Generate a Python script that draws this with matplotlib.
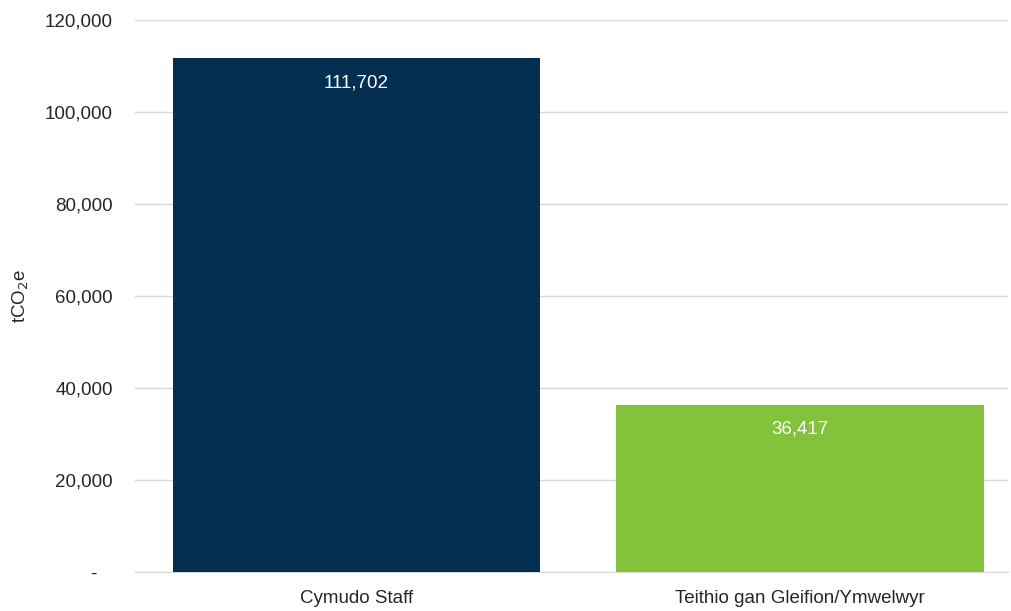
import matplotlib.pyplot as plt
from matplotlib.ticker import FuncFormatter

plt.rcParams['font.family'] = ['Liberation Sans', 'DejaVu Sans']

# Data
categories = ['Cymudo Staff', 'Teithio gan Gleifion/Ymwelwyr']
values = [111702, 36417]
bar_colors = ['#052f50', '#82c33b']
y_ticks = [0, 20000, 40000, 60000, 80000, 100000, 120000]

fig = plt.figure(figsize=(10.11, 6.11), dpi=100)
ax = fig.add_axes([0.1335, 0.0638, 0.8635, 0.9032])

x = list(range(len(categories)))
bars = ax.bar(x, values, width=0.83, color=bar_colors, zorder=3)

# value labels inside the top of each bar
for b, v in zip(bars, values):
    ax.annotate(f'{v:,}', (b.get_x() + b.get_width() / 2, v),
                xytext=(0, -11.5), textcoords='offset points',
                ha='center', va='top', color='white', fontsize=13.5)

ax.set_ylim(0, 120000)
ax.set_xlim(-0.5, 1.47)
ax.set_yticks(y_ticks)
ax.yaxis.set_major_formatter(FuncFormatter(lambda v, p: '-   ' if v == 0 else f'{int(v):,}'))
ax.set_xticks(x)
ax.set_xticklabels(categories)
ax.tick_params(axis='both', length=0, labelsize=13.5, colors='#262626')
ax.tick_params(axis='y', pad=16)
ax.tick_params(axis='x', pad=13)

ax.grid(axis='y', color='#d9d9d9', linewidth=1, zorder=0)
for s in ['top', 'right', 'left']:
    ax.spines[s].set_visible(False)
ax.spines['bottom'].set_color('#d9d9d9')

ax.set_ylabel('tCO$_2$e', fontsize=13.5, color='#262626')
ax.yaxis.set_label_coords(-0.119, 0.5)

fig.savefig('out.png', dpi=100)
